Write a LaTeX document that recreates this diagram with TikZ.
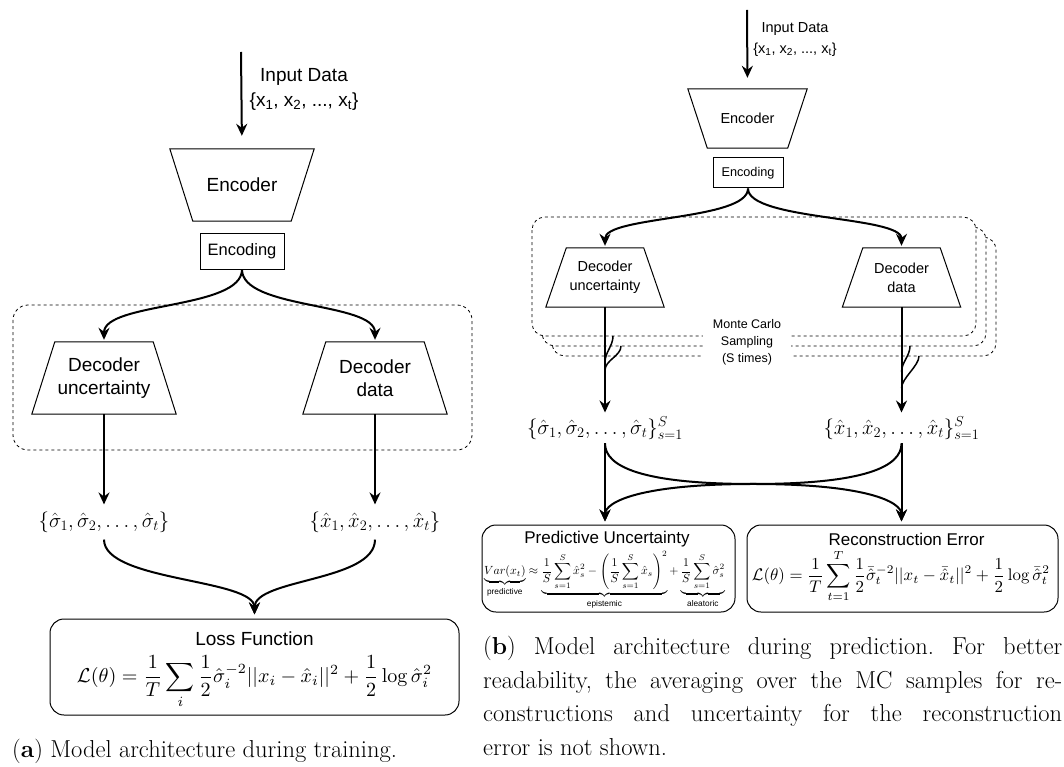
\documentclass[tikz,border=0pt]{standalone}
\usepackage{amsmath}
\usepackage{fontspec}
\setsansfont{Liberation Sans}
\usepackage{tikz}
\usetikzlibrary{arrows.meta, positioning, calc}

\newcommand{\sfsize}[2]{\sffamily\fontsize{#1}{#2}\selectfont}

\tikzset{
  arr/.style={line width=2pt, -{Stealth[length=12pt, width=11pt, inset=4pt]}},
  link/.style={line width=2pt},
  trapbox/.style={inner sep=0pt, align=center},
  trapline/.style={line width=1pt, line join=miter},
  codebox/.style={draw, line width=1pt, inner sep=0pt},
  samplebox/.style={draw, dashed, line width=0.8pt, rounded corners=13pt, fill=white},
  lossbox/.style={draw, line width=1pt, rounded corners=14pt, inner sep=0pt},
  seq/.style={inner xsep=0pt, inner ysep=7pt, font=\fontsize{20}{24}\selectfont},
  caption/.style={inner sep=0pt, font={\fontsize{24.5}{33.7}\selectfont\frenchspacing\tolerance=9999}}
}

\begin{document}
\begin{tikzpicture}[x=1pt, y=-1pt]
\useasboundingbox (0,0) rectangle (1064,767);

% (a) training
\draw[samplebox, rounded corners=15pt] (13,305) rectangle (472,450);
\coordinate (inA) at (241,52);
\node (inTxtA) [align=center, font=\sfsize{19}{25}] at (304,89.5) {Input Data\\\{x\textsubscript{1}, x\textsubscript{2}, ..., x\textsubscript{t}\}};
\node (encA) [trapbox, minimum width=144pt, minimum height=72pt, font=\sfsize{19}{23}] at (242,185) {Encoder};
\node (codeA) [codebox, minimum width=84pt, minimum height=36pt, font=\sfsize{16.5}{20}] at (242,251) {Encoding};
\node (decUA) [trapbox, minimum width=144pt, minimum height=72pt, font=\sfsize{19}{23}] at (104,378) {Decoder\\uncertainty};
\node (decDA) [trapbox, minimum width=144pt, minimum height=72pt, font=\sfsize{19}{23}] at (375,378) {Decoder\\data};
\node (sigA) [seq] at (104,522) {$\{\hat{\sigma}_1, \hat{\sigma}_2, \ldots, \hat{\sigma}_t\}$};
\node (xA) [seq] at (375,522) {$\{\hat{x}_1, \hat{x}_2, \ldots, \hat{x}_t\}$};
\node (lossA) [lossbox, minimum width=409pt, minimum height=96pt] at (254.5,667) {};
\node (lossT) [font=\sfsize{19}{23}] at (254.5,638.5) {Loss Function};
\node (lossF) [inner sep=0pt] at (254.5,682) {\resizebox{355pt}{!}{$\displaystyle \mathcal{L}(\theta) = \frac{1}{T}\sum_i \frac{1}{2}\hat{\sigma}_i^{-2}||x_i - \hat{x}_i||^2 + \frac{1}{2}\log\hat{\sigma}_i^2$}};

\draw[arr, shorten >=13pt] (inA) -- (encA.north);
\draw[arr, shorten >=2pt] (codeA.south) .. controls +(0,40) and +(0,-40) .. (decUA.north);
\draw[arr, shorten >=2pt] (codeA.south) .. controls +(0,40) and +(0,-40) .. (decDA.north);
\draw[arr] (decUA.south) -- (sigA.north);
\draw[arr] (decDA.south) -- (xA.north);
\draw[arr, shorten >=4pt] (sigA.south) .. controls +(0,42) and +(0,-40) .. (lossA.north);
\draw[arr, shorten >=4pt] (xA.south) .. controls +(0,42) and +(0,-40) .. (lossA.north);

% (b) prediction
\foreach \d in {20,10,0} \draw[samplebox] (532+\d,217+\d) rectangle (976+\d,336+\d);
\coordinate (inB) at (747,10);
\node (inTxtB) [align=center, font=\sfsize{14.5}{21}] at (795,39.5) {Input Data\\\{x\textsubscript{1}, x\textsubscript{2}, ..., x\textsubscript{t}\}};
\node (encB) [trapbox, minimum width=119pt, minimum height=59pt, font=\sfsize{14.5}{19}] at (747.5,118.5) {Encoder};
\node (codeB) [codebox, minimum width=70pt, minimum height=30pt, font=\sfsize{12.7}{15}] at (748,173) {Encoding};
\node (decUB) [trapbox, minimum width=118pt, minimum height=59pt, font=\sfsize{14.5}{19}] at (605,277.5) {Decoder\\uncertainty};
\node (decDB) [trapbox, minimum width=118pt, minimum height=59pt, font=\sfsize{14.5}{19}] at (901.5,277.5) {Decoder\\data};
\node (mcB) [fill=white, inner xsep=10pt, inner ysep=3pt, align=center, font=\sfsize{12.5}{17}] at (747,342) {Monte Carlo\\Sampling\\(S times)};
\node (sigB) [seq, inner ysep=4pt] at (605,428) {$\{\hat{\sigma}_1, \hat{\sigma}_2, \ldots, \hat{\sigma}_t\}_{s=1}^{S}$};
\node (xB) [seq, inner ysep=4pt] at (901.5,428) {$\{\hat{x}_1, \hat{x}_2, \ldots, \hat{x}_t\}_{s=1}^{S}$};
\node (predB) [lossbox, minimum width=253pt, minimum height=87pt] at (608.5,568.5) {};
\node (recB) [lossbox, minimum width=311pt, minimum height=87pt] at (902.5,568.5) {};
\node (predT) [font=\sfsize{17}{20}] at (607,539) {Predictive Uncertainty};
\node (recT) [font=\sfsize{17}{20}] at (906.5,539.5) {Reconstruction Error};
\node (predF) [inner sep=0pt] at (604.5,580) {\resizebox{241pt}{!}{$\displaystyle \underbrace{Var(x_t)}_{\textsf{predictive}} \approx \underbrace{\frac{1}{S}\sum_{s=1}^{S}\hat{x}_s^2 - \left(\frac{1}{S}\sum_{s=1}^{S}\hat{x}_s\right)^2}_{\textsf{epistemic}} + \underbrace{\frac{1}{S}\sum_{s=1}^{S}\hat{\sigma}_s^2}_{\textsf{aleatoric}}$}};
\node (recF) [inner sep=0pt] at (901,576) {\resizebox{298pt}{!}{$\displaystyle \mathcal{L}(\theta) = \frac{1}{T}\sum_{t=1}^{T}\frac{1}{2}\bar{\hat{\sigma}}_t^{-2}||x_t - \bar{\hat{x}}_t||^2 + \frac{1}{2}\log\bar{\hat{\sigma}}_t^2$}};

\draw[arr, shorten >=11pt] (inB) -- (encB.north);
\draw[arr, shorten >=2pt] (codeB.south) .. controls +(0,32) and +(0,-32) .. (decUB.north);
\draw[arr, shorten >=2pt] (codeB.south) .. controls +(0,32) and +(0,-32) .. (decDB.north);
\draw[arr] (decUB.south) -- (sigB.north);
\draw[arr] (decDB.south) -- (xB.north);
\path (decUB.south) ++(0,55) coordinate (joinU1) ++(0,8) coordinate (joinU2);
\path (decDB.south) ++(0,65) coordinate (joinD1) ++(0,16) coordinate (joinD2);
\coordinate (brU1) at (613,336); \coordinate (brU2) at (621,346);
\coordinate (brD1) at (910,346); \coordinate (brD2) at (919,356);
\foreach \a/\b in {brU1/joinU1, brU2/joinU2, brD1/joinD1, brD2/joinD2}
  \draw[link, line width=1.5pt] (\a) .. controls +(0,10) and +(0,-10) .. (\b);

\coordinate (xing) at ($(sigB.south)!0.5!(xB.south |- recB.north)$);
\draw[arr, shorten >=3pt] (sigB.south) -- (sigB.south |- predB.north);
\draw[arr, shorten >=3pt] (xB.south) -- (xB.south |- recB.north);
\draw[arr, shorten >=3pt] (sigB.south) .. controls +(0,23) and +(-112,0) .. (xing) .. controls +(112,0) and +(0,-23) .. (xB.south |- recB.north);
\draw[arr, shorten >=3pt] (xB.south) .. controls +(0,23) and +(112,0) .. (xing) .. controls +(-112,0) and +(0,-23) .. (sigB.south |- predB.north);

% trapezoid outlines
\foreach \n/\d in {encA/23, encB/19.5}
  \draw[trapline] (\n.north west) -- (\n.north east) -- ([xshift=-\d pt]\n.south east) -- ([xshift=\d pt]\n.south west) -- cycle;
\foreach \n/\d in {decUA/23, decDA/23, decUB/20.5, decDB/20.5}
  \draw[trapline] ([xshift=\d pt]\n.north west) -- ([xshift=-\d pt]\n.north east) -- (\n.south east) -- (\n.south west) -- cycle;

% captions
\node (capA) [caption, anchor=west] at (12,751) {(\textbf{a}) Model architecture during training.};
\node (capB) [caption, text width=579pt, align=justify, anchor=north west] at (483,636) {(\textbf{b}) Model architecture during prediction. For better\linebreak readability, the averaging over the MC samples for re-\linebreak constructions and uncertainty for the reconstruction\linebreak error is not shown.};
\end{tikzpicture}
\end{document}
